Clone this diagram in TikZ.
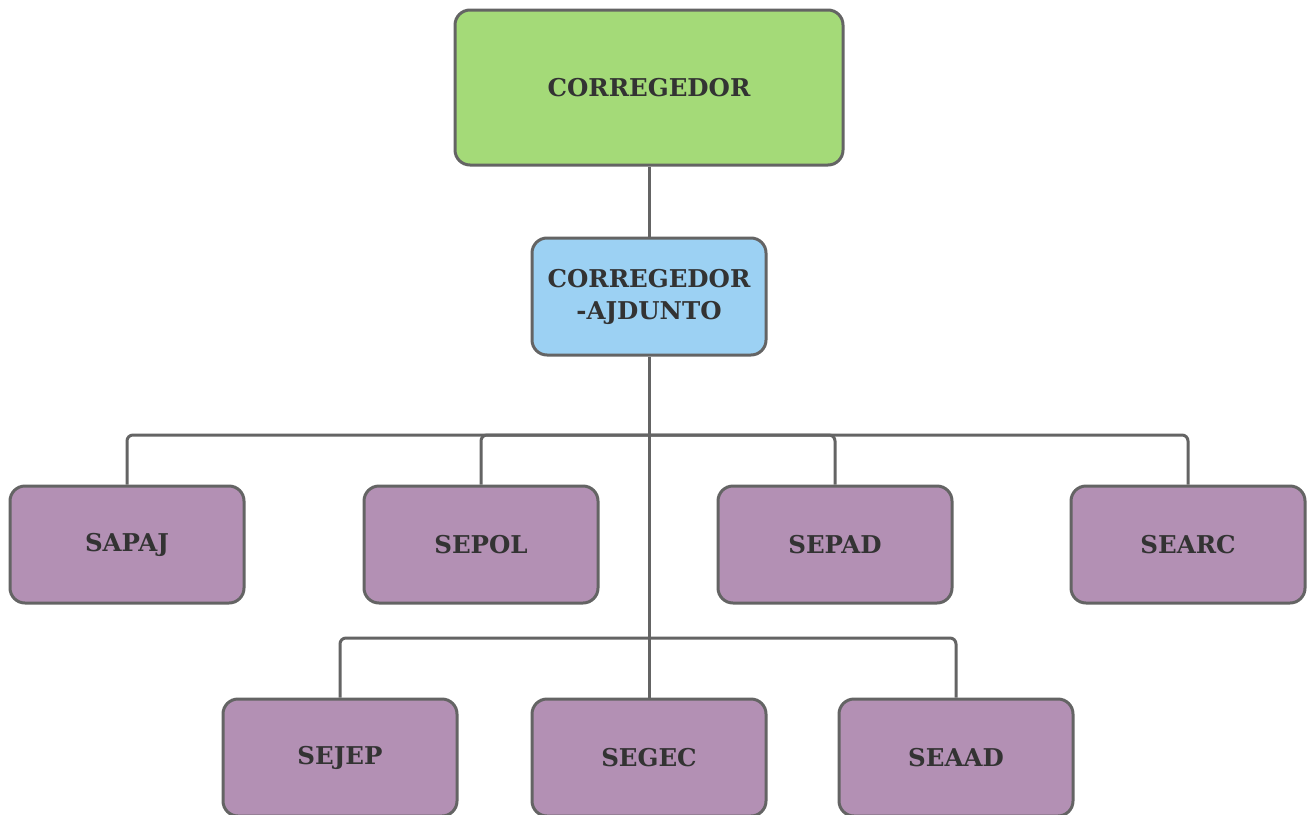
\documentclass[tikz,border=0pt]{standalone}
\usepackage{fontspec}
\setmainfont{DejaVu Serif}
\definecolor{lineg}{HTML}{646464}
\definecolor{txt}{HTML}{333333}
\definecolor{fgreen}{HTML}{A4DA78}
\definecolor{fblue}{HTML}{9CD1F3}
\definecolor{fpurple}{HTML}{B390B4}
\begin{document}
\begin{tikzpicture}[x=1pt,y=-1pt,
  box/.style={draw=lineg, line width=3pt, rounded corners=15pt, text=txt,
    font=\fontsize{24.5}{32}\selectfont\bfseries, align=center, inner sep=0pt},
  topbox/.style={box, fill=fgreen, minimum width=388pt, minimum height=155pt},
  midbox/.style={box, fill=fblue, minimum width=234pt, minimum height=117pt},
  unitbox/.style={box, fill=fpurple, minimum width=234pt, minimum height=117pt},
  link/.style={draw=lineg, line width=3pt, rounded corners=6pt}]
\useasboundingbox (0,0) rectangle (1311,814);
\node[topbox] (top) at (649,87.5) {CORREGEDOR};
\node[midbox] (mid) at (649,296.5) {CORREGEDOR\\-AJDUNTO};
\node[unitbox] (sapaj) at (127,544.5) {SAPAJ};
\node[unitbox] (sepol) at (481,544.5) {SEPOL};
\node[unitbox] (sepad) at (835,544.5) {SEPAD};
\node[unitbox] (searc) at (1188,544.5) {SEARC};
\node[unitbox] (sejep) at (340,757.5) {SEJEP};
\node[unitbox] (segec) at (649,757.5) {SEGEC};
\node[unitbox] (seaad) at (956,757.5) {SEAAD};
\coordinate (busa) at (649,435);
\coordinate (busb) at (649,638);
\draw[link] (top.south) -- (mid.north);
\draw[link] (mid.south) -- (segec.north);
\draw[link] (sapaj.north) |- (busa);
\draw[link] (sepol.north) |- (busa);
\draw[link] (sepad.north) |- (busa);
\draw[link] (searc.north) |- (busa);
\draw[link] (sejep.north) |- (busb);
\draw[link] (seaad.north) |- (busb);
\end{tikzpicture}
\end{document}
